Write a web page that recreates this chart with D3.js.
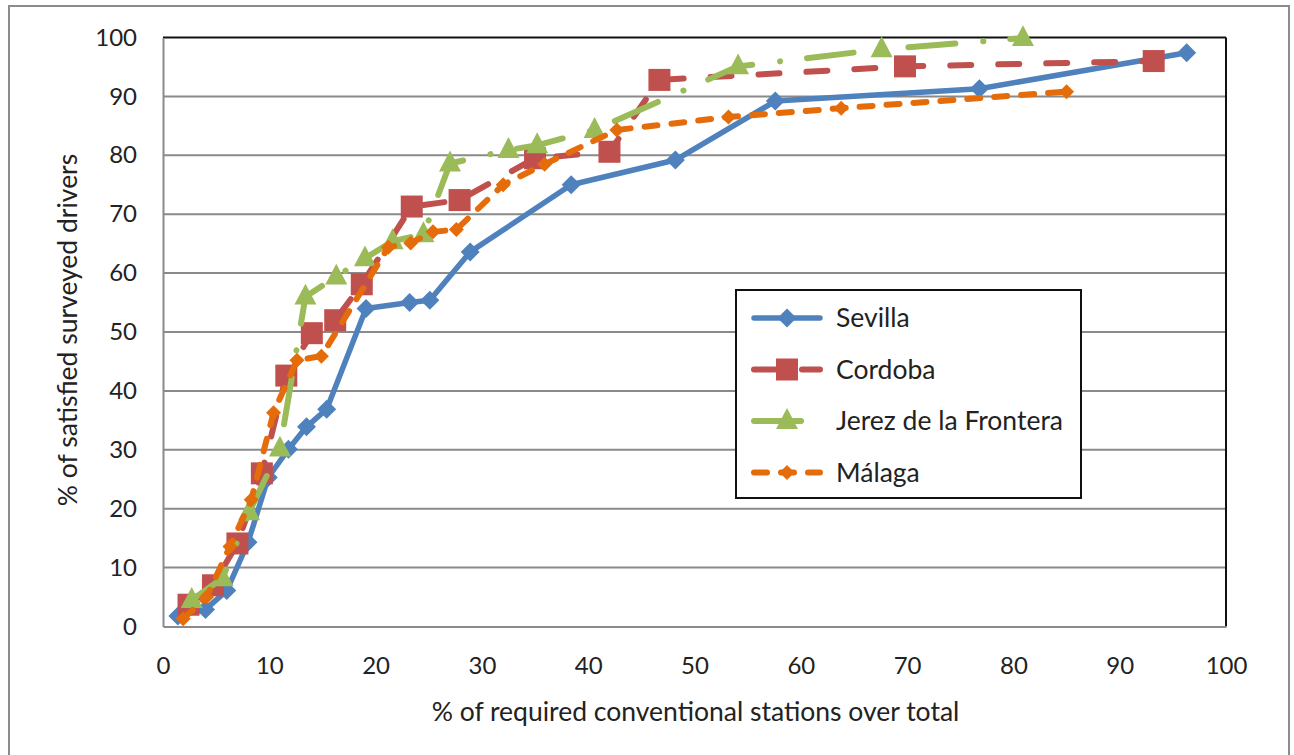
<!DOCTYPE html>
<html>
<head>
<meta charset="utf-8">
<script src="https://cdn.jsdelivr.net/npm/d3@7/dist/d3.min.js"></script>
<style>
  html, body { margin: 0; padding: 0; background: #fff; }
  svg { display: block; }
  text { font-family: Lato, "Open Sans", sans-serif; fill: #222; }
</style>
</head>
<body>
<svg id="chart" width="1294" height="755"></svg>
<script>
// Share of required conventional stations (x) vs. share of satisfied drivers (y)
const sevillaX = [1.4, 4.0, 6.0, 8.0, 9.9, 11.8, 13.5, 15.4, 19.1, 23.2, 25.1, 28.9, 38.4, 48.2, 57.6, 76.8, 96.3];
const sevillaY = [1.8, 2.9, 6.1, 14.3, 25.3, 30.1, 33.9, 36.9, 54.0, 55.0, 55.4, 63.6, 75.0, 79.2, 89.2, 91.3, 97.4];

const cordobaX = [2.4, 4.7, 7.0, 9.3, 11.6, 14.0, 16.2, 18.7, 23.4, 27.9, 35.0, 42.0, 46.7, 69.8, 93.2];
const cordobaY = [3.7, 7.0, 14.1, 26.0, 42.6, 49.8, 52.0, 58.1, 71.3, 72.4, 79.5, 80.6, 92.8, 95.1, 96.0];

const jerezX = [2.7, 5.6, 8.1, 11.0, 13.4, 16.3, 19.0, 21.6, 24.5, 27.0, 32.5, 35.2, 40.6, 54.1, 67.6, 80.9];
const jerezY = [4.5, 8.2, 19.4, 30.2, 56.0, 59.4, 62.5, 65.4, 66.6, 78.6, 80.9, 81.7, 84.3, 95.1, 98.0, 99.9];

const malagaX = [1.9, 4.1, 6.3, 8.3, 10.4, 12.6, 14.9, 21.2, 23.3, 25.4, 27.6, 32.0, 35.9, 42.7, 53.2, 63.8, 85.0];
const malagaY = [1.3, 5.0, 13.6, 21.5, 36.3, 45.2, 45.9, 64.4, 65.1, 67.0, 67.4, 75.0, 78.5, 84.3, 86.5, 88.0, 90.8];

const seriesNames = ["Sevilla", "Cordoba", "Jerez de la Frontera", "Málaga"];
const xTicks = [0, 10, 20, 30, 40, 50, 60, 70, 80, 90, 100];
const yTicks = [0, 10, 20, 30, 40, 50, 60, 70, 80, 90, 100];
const xTitle = "% of required conventional stations over total";
const yTitle = "% of satisfied surveyed drivers";

const series = [
  { name: seriesNames[0], xs: sevillaX, ys: sevillaY, color: "#4F81BD", dash: null, marker: "diamond", size: 19, width: 5.5 },
  { name: seriesNames[1], xs: cordobaX, ys: cordobaY, color: "#C0504D", dash: "21,27", marker: "square", size: 22, width: 6 },
  { name: seriesNames[2], xs: jerezX, ys: jerezY, color: "#9BBB59", dash: "47,28,0.1,27", marker: "triangle", size: 22, width: 6 },
  { name: seriesNames[3], xs: malagaX, ys: malagaY, color: "#E46C0A", dash: "13,14", marker: "diamond", size: 15, width: 6 }
];

const svg = d3.select("#chart");
const plot = { left: 163, right: 1226, top: 37.5, bottom: 626.5 };

const x = d3.scaleLinear().domain([0, 100]).range([plot.left, plot.right]);
const y = d3.scaleLinear().domain([0, 100]).range([plot.bottom, plot.top]);

// outer chart frame
svg.append("rect")
  .attr("x", 9).attr("y", 6).attr("width", 1280).attr("height", 760)
  .attr("fill", "#fff").attr("stroke", "#8c8c8c").attr("stroke-width", 2);

// horizontal gridlines
svg.append("g")
  .selectAll("line")
  .data(yTicks.filter(t => t > 0 && t < 100))
  .join("line")
  .attr("x1", plot.left).attr("x2", plot.right)
  .attr("y1", d => y(d)).attr("y2", d => y(d))
  .attr("stroke", "#8a8a8a").attr("stroke-width", 2);

// plot area border: dark top/right, grey axis lines left/bottom
svg.append("line").attr("x1", plot.left).attr("x2", plot.right).attr("y1", plot.top).attr("y2", plot.top)
  .attr("stroke", "#111").attr("stroke-width", 2);
svg.append("line").attr("x1", plot.right).attr("x2", plot.right).attr("y1", plot.top).attr("y2", plot.bottom)
  .attr("stroke", "#111").attr("stroke-width", 2);

// axes
const xAxis = d3.axisBottom(x).tickValues(xTicks).tickSize(0).tickPadding(30);
const yAxis = d3.axisLeft(y).tickValues(yTicks).tickSize(0).tickPadding(26);

const gx = svg.append("g").attr("transform", `translate(0,${plot.bottom})`).call(xAxis);
const gy = svg.append("g").attr("transform", `translate(${plot.left},0)`).call(yAxis);
[gx, gy].forEach(g => {
  g.select(".domain").attr("stroke", "#8a8a8a").attr("stroke-width", 2);
  g.selectAll("text").attr("font-size", 24).attr("font-family", "Lato, sans-serif").attr("fill", "#222");
});

// axis titles
svg.append("text")
  .attr("x", (plot.left + plot.right) / 2 + 1).attr("y", 721)
  .attr("text-anchor", "middle").attr("font-size", 26.5)
  .text(xTitle);
svg.append("text")
  .attr("transform", `translate(77,${(plot.top + plot.bottom) / 2 - 2}) rotate(-90)`)
  .attr("text-anchor", "middle").attr("font-size", 26.5)
  .text(yTitle);

function markerPath(type, s) {
  const h = s / 2;
  if (type === "diamond") return `M0,${-h}L${h},0L0,${h}L${-h},0Z`;
  if (type === "square") return `M${-h},${-h}H${h}V${h}H${-h}Z`;
  if (type === "triangle") {
    const th = s * 0.95;
    return `M0,${-th * 0.62}L${h},${th * 0.38}L${-h},${th * 0.38}Z`;
  }
  return "";
}

const line = d3.line().x(d => x(d[0])).y(d => y(d[1]));

const seriesG = svg.append("g");
series.forEach(s => {
  const pts = s.xs.map((v, i) => [v, s.ys[i]]);
  const g = seriesG.append("g");
  g.append("path")
    .datum(pts)
    .attr("d", line)
    .attr("fill", "none")
    .attr("stroke", s.color)
    .attr("stroke-width", s.width)
    .attr("stroke-linecap", "round")
    .attr("stroke-linejoin", "round")
    .attr("stroke-dasharray", s.dash);
  g.selectAll("path.marker")
    .data(pts)
    .join("path")
    .attr("class", "marker")
    .attr("transform", d => `translate(${x(d[0])},${y(d[1])})`)
    .attr("d", markerPath(s.marker, s.size))
    .attr("fill", s.color);
});

// legend
const legend = svg.append("g").attr("transform", "translate(736,290)");
legend.append("rect")
  .attr("width", 345).attr("height", 208)
  .attr("fill", "#fff").attr("stroke", "#111").attr("stroke-width", 2);
series.forEach((s, i) => {
  const cy = 28 + i * 51.5;
  const row = legend.append("g").attr("transform", `translate(0,${cy})`);
  row.append("line")
    .attr("x1", 18).attr("x2", 84).attr("y1", 0).attr("y2", 0)
    .attr("stroke", s.color).attr("stroke-width", s.width)
    .attr("stroke-linecap", "round")
    .attr("stroke-dasharray", s.dash);
  row.append("path")
    .attr("transform", "translate(51,0)")
    .attr("d", markerPath(s.marker, s.size))
    .attr("fill", s.color);
  row.append("text")
    .attr("x", 100).attr("y", 0).attr("dy", "0.35em")
    .attr("font-size", 26.5)
    .text(s.name);
});
</script>
</body>
</html>
